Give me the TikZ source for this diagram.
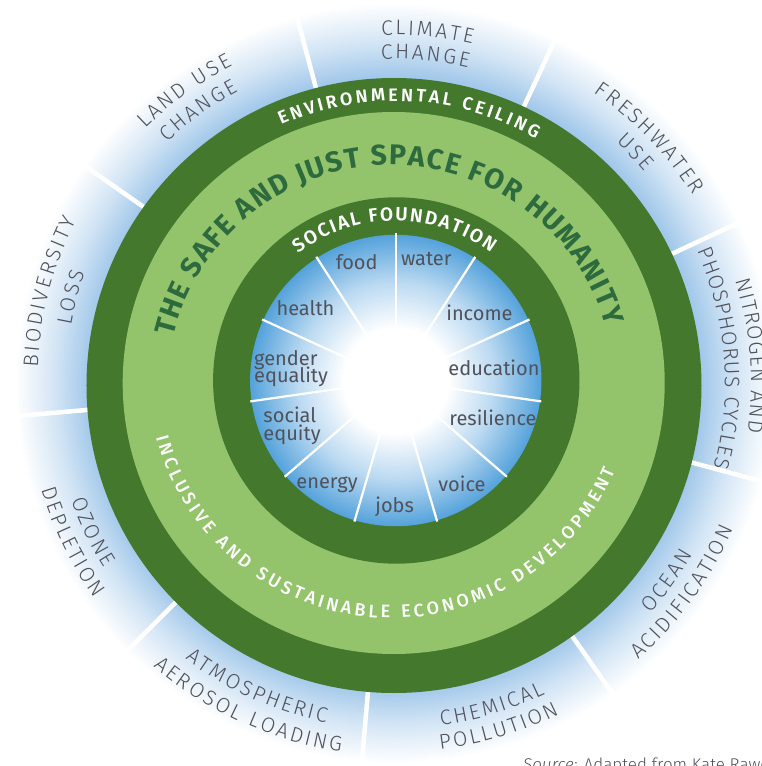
\documentclass[tikz,border=0pt]{standalone}
\usepackage{fontspec}
\setmainfont{Fira Sans}
\newfontfamily\firalight{Fira Sans Light}
\newfontfamily\firamedium{Fira Sans Medium}
\newfontfamily\firasemi{Fira Sans SemiBold}

\definecolor{ringdark}{HTML}{43782D}
\definecolor{ringlight}{HTML}{93C36B}
\definecolor{titlegreen}{HTML}{2D6A3E}
\definecolor{labelgray}{HTML}{50525B}
\definecolor{haloblue}{HTML}{A2C8EA}
\definecolor{discblue}{HTML}{54A2DB}
\definecolor{discmid}{HTML}{BAD9F1}

% blue glow around the outer ring (circle radius 380 -> 25bp)
\pgfdeclareradialshading{halo}{\pgfpoint{0bp}{0bp}}{%
  color(0bp)=(haloblue); color(20.2bp)=(haloblue); color(22.3bp)=(haloblue!50);
  color(25bp)=(white); color(50bp)=(white)}
% white-to-blue inner disc (radius 145.7 -> 25bp)
\pgfdeclareradialshading{disc}{\pgfpoint{0bp}{0bp}}{%
  color(0bp)=(white); color(9bp)=(white); color(17bp)=(discmid);
  color(25bp)=(discblue); color(50bp)=(discblue)}

\newcommand\outerfont{\firalight\fontsize{21}{24}\selectfont\color{labelgray}}
\newcommand\innerfont{\fontsize{20}{17}\selectfont\color{labelgray}}
\newcommand\envfont{\firasemi\fontsize{18}{20}\selectfont\color{white}}
\newcommand\socfont{\firasemi\fontsize{19}{20}\selectfont\color{white}}
\newcommand\titlefont{\fontsize{28.5}{30}\selectfont\bfseries\color{titlegreen}}
\newcommand\devfont{\firamedium\fontsize{18}{20}\selectfont\color{white}}

% Letters set one by one along a circle about the origin.
% #1 baseline radius, #2 angle of the text centre, #3 extra letter spacing,
% #4 font, #5 direction (1: clockwise, tops outward; -1: anticlockwise,
% tops inward), #6 text with ~ for word spaces
\makeatletter
\newdimen\arcw
\def\arcspacemark{~}
\newcommand\arcmeasure[2]{%
  \pgfinterruptpicture
    \ifx#2\arcspacemark\setbox0\hbox{#1\ }\else\setbox0\hbox{#1#2}\fi
    \global\arcw=\wd0
  \endpgfinterruptpicture}
\newcommand\arclabel[6]{%
  \def\arctot{0}%
  \@tfor\arcch:=#6\do{%
    \arcmeasure{#4}\arcch
    \pgfmathsetmacro\arctot{\arctot+\arcw+#3}}%
  \pgfmathsetmacro\arctot{\arctot-#3}%
  \def\arcpos{0}%
  \@tfor\arcch:=#6\do{%
    \arcmeasure{#4}\arcch
    \pgfmathsetmacro\arcs{\arcpos+0.5*\arcw-0.5*\arctot}%
    \pgfmathsetmacro\arcang{#2-(#5)*\arcs/(#1)*57.29578}%
    \pgfmathsetmacro\arcrot{\arcang-(#5)*90}%
    \ifx\arcch\arcspacemark\else
      \node[anchor=base,inner sep=0pt,rotate=\arcrot] at (\arcang:#1) {#4\arcch};%
    \fi
    \pgfmathsetmacro\arcpos{\arcpos+\arcw+#3}}%
}
\makeatother

\begin{document}
\begin{tikzpicture}[x=1pt,y=1pt,
  spoke/.style={white,line width=4.5pt},
  thinspoke/.style={white,line width=2.2pt},
  need/.style={anchor=base,inner sep=0pt,font=\innerfont},
  needleft/.style={anchor=base west,inner sep=0pt,font=\innerfont}]
\useasboundingbox (-395,-383) rectangle (367,383);
\clip (-395,-383) rectangle (367,383);
\fill[white] (-395,-383) rectangle (367,383);

% glow and the nine boundary dividers
\shade[shading=halo] (0,0) circle (380);
\foreach \a in {105,145,...,425}
  \draw[spoke] (\a:300) -- (\a:392);

% rings
\fill[ringdark] (-1,-2.5) circle (307.5);
\fill[ringlight] (-1.3,0) circle (271);
\fill[ringdark] (1.3,2.5) circle (183.2);

% inner disc with the eleven social dividers
\begin{scope}[shift={(0.8,2.5)}]
  \shade[shading=disc] (0,0) circle (145.7);
  \foreach \k in {0,...,10}
    \draw[thinspoke] (90-32.72727*\k:40) -- (90-32.72727*\k:147);
\end{scope}

% ring titles
\arclabel{282}{86.9}{3}{\envfont}{1}{ENVIRONMENTAL~CEILING}
\begin{scope}[shift={(-3.9,-6.1)}]
  \arclabel{224}{91.4}{1.5}{\titlefont}{1}{THE~SAFE~AND~JUST~SPACE~FOR~HUMANITY}
\end{scope}
\arclabel{162}{90.2}{1.8}{\socfont}{1}{SOCIAL~FOUNDATION}
\begin{scope}[shift={(-3.8,8.4)}]
  \arclabel{243.5}{265.9}{3.4}{\devfont}{-1}{INCLUSIVE~AND~SUSTAINABLE~ECONOMIC~DEVELOPMENT}
\end{scope}

% planetary boundaries
\arclabel{356.5}{125.8}{2.5}{\outerfont}{1}{LAND~USE}
\arclabel{331.5}{125.8}{2.5}{\outerfont}{1}{CHANGE}
\arclabel{348}{84.7}{2.5}{\outerfont}{1}{CLIMATE}
\arclabel{324}{84.7}{2.5}{\outerfont}{1}{CHANGE}
\arclabel{352}{43.9}{2.5}{\outerfont}{1}{FRESHWATER}
\arclabel{327}{43.9}{2.5}{\outerfont}{1}{USE}
\arclabel{356}{4.4}{1.2}{\outerfont}{1}{NITROGEN~AND}
\arclabel{330}{4.4}{1.2}{\outerfont}{1}{PHOSPHORUS~CYCLES}
\arclabel{343.5}{324}{2.5}{\outerfont}{-1}{OCEAN}
\arclabel{368.5}{324}{2.5}{\outerfont}{-1}{ACIDIFICATION}
\arclabel{345.5}{286.7}{2.5}{\outerfont}{-1}{CHEMICAL}
\arclabel{369.5}{286.7}{2.5}{\outerfont}{-1}{POLLUTION}
\arclabel{346.5}{245.6}{2.5}{\outerfont}{-1}{ATMOSPHERIC}
\arclabel{372.5}{245.6}{2.5}{\outerfont}{-1}{AEROSOL~LOADING}
\arclabel{344.5}{206.2}{2.5}{\outerfont}{-1}{OZONE}
\arclabel{369.5}{206.2}{2.5}{\outerfont}{-1}{DEPLETION}
\arclabel{357.5}{165.2}{2.5}{\outerfont}{1}{BIODIVERSITY}
\arclabel{328.5}{165.2}{2.5}{\outerfont}{1}{LOSS}

% social needs
\node[need] (food) at (-38.3,113.7) {food};
\node[need] (water) at (31.3,117.3) {water};
\node[need] (income) at (84.5,62.3) {income};
\node[need] (education) at (99,8) {education};
\node[need] (resilience) at (98,-42) {resilience};
\node[need] (voice) at (67,-108.7) {voice};
\node[need] (jobs) at (-0.3,-129.7) {jobs};
\node[need] (energy) at (-68,-105.3) {energy};
\node[needleft] (social) at (-131.7,-39.7) {social};
\node[needleft] (equity) at (-131.7,-57) {equity};
\node[needleft] (gender) at (-141,18) {gender};
\node[needleft] (equality) at (-141,0.7) {equality};
\node[need] (health) at (-89.5,67.3) {health};

% credit line
\node[anchor=base west,inner sep=0pt,font=\firalight\fontsize{17}{18}\selectfont\color{labelgray}]
  (source) at (128,-387) {\textit{Source:} Adapted from Kate Raworth};
\end{tikzpicture}
\end{document}
